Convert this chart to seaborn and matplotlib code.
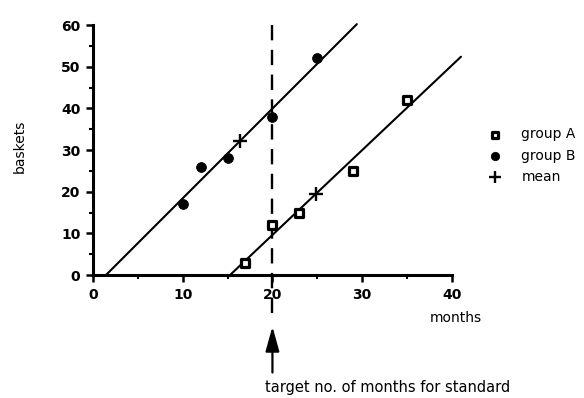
import numpy as np
import pandas as pd
import matplotlib
matplotlib.use("Agg")
import matplotlib.pyplot as plt
import seaborn as sns
from matplotlib.ticker import MultipleLocator

# Months taken and baskets produced for two groups of trainees
months_a = [17, 20, 23, 29, 35]
baskets_a = [3, 12, 15, 25, 42]
months_b = [10, 12, 15, 20, 25]
baskets_b = [17, 26, 28, 38, 52]
target_month = 20
line_end_a = 41.0
line_end_b = 29.4

sns.set_style("ticks")
plt.rcParams["font.family"] = ["DejaVu Sans"]
plt.rcParams.update({
    "text.color": "black",
    "axes.labelcolor": "black",
    "axes.edgecolor": "black",
    "xtick.color": "black",
    "ytick.color": "black",
})

fig = plt.figure(figsize=(5.84, 3.98), dpi=100)
ax = fig.add_axes([0.159, 0.309, 0.615, 0.628])

df_a = pd.DataFrame({"months": months_a, "baskets": baskets_a})
df_b = pd.DataFrame({"months": months_b, "baskets": baskets_b})

# least-squares fit lines, drawn from the x-intercept upward
for df, x_end in ((df_a, line_end_a), (df_b, line_end_b)):
    slope, icpt = np.polyfit(df["months"], df["baskets"], 1)
    x0 = -icpt / slope
    fit = pd.DataFrame({"months": [x0, x_end]})
    fit["baskets"] = slope * fit["months"] + icpt
    sns.lineplot(data=fit, x="months", y="baskets", color="black",
                 linewidth=1.5, ax=ax, clip_on=False)

sns.scatterplot(data=df_a, x="months", y="baskets", marker="s", s=32,
                facecolor="white", edgecolor="black", linewidth=2.3,
                label="group A", ax=ax, zorder=5, clip_on=False)
sns.scatterplot(data=df_b, x="months", y="baskets", marker="o", s=50,
                color="black", edgecolor="black", label="group B", ax=ax,
                zorder=5, clip_on=False)
means = pd.DataFrame({
    "months": [np.mean(months_a), np.mean(months_b)],
    "baskets": [np.mean(baskets_a), np.mean(baskets_b)],
})
sns.scatterplot(data=means, x="months", y="baskets", marker="+", s=100,
                color="black", linewidth=1.7, label="mean", ax=ax, zorder=6,
                clip_on=False)

# dashed marker of the target month, running below the axes
ax.plot([target_month, target_month], [60, -10.6], color="black",
        linewidth=1.7, dashes=(6.5, 4.0), clip_on=False, zorder=4)
ax.annotate("", xy=(target_month, -12.4), xytext=(target_month, -23.4),
            arrowprops=dict(arrowstyle="-|>,head_length=1.5,head_width=0.42",
                            color="black", linewidth=1.6,
                            shrinkA=0, shrinkB=0),
            annotation_clip=False)
ax.text(target_month - 0.85, -25.3, "target no. of months for standard",
        fontsize=10.5, va="top", ha="left")

ax.set_xlim(0, 40)
ax.set_ylim(0, 60)
ax.xaxis.set_major_locator(MultipleLocator(10))
ax.xaxis.set_minor_locator(MultipleLocator(5))
ax.yaxis.set_major_locator(MultipleLocator(10))
ax.yaxis.set_minor_locator(MultipleLocator(5))
ax.tick_params(which="major", length=5, width=1.8, labelsize=10, pad=4)
ax.tick_params(which="minor", length=3, width=1.5)
for lbl in ax.get_xticklabels() + ax.get_yticklabels():
    lbl.set_fontweight("bold")

sns.despine(ax=ax)
for side in ("left", "bottom"):
    ax.spines[side].set_linewidth(2.2)

ax.set_xlabel("")
ax.set_ylabel("")
ax.text(37.5, -8.6, "months", fontsize=10, ha="left", va="top")
fig.text(0.033, 0.633, "baskets", fontsize=10, rotation=90,
         ha="center", va="center")

ax.legend(loc="center left", bbox_to_anchor=(1.081, 0.478), frameon=False,
          fontsize=10, handletextpad=1.3, labelspacing=0.52,
          borderaxespad=0, handlelength=1.2, markerscale=0.85)

fig.savefig("out.png", dpi=100)
